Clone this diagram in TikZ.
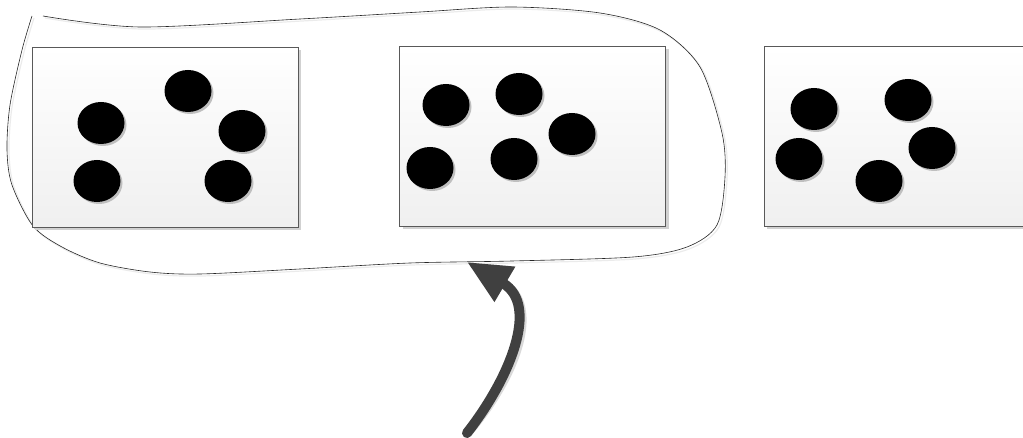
\documentclass[tikz,border=0pt]{standalone}
\usetikzlibrary{shapes.geometric,shadows,arrows.meta}
\begin{document}
\begin{tikzpicture}[x=1pt,y=-1pt,
  panel/.style={rectangle,draw=black!65,line width=0.8pt,inner sep=0pt,
    minimum width=266pt,minimum height=180pt,top color=white,bottom color=black!6,
    drop shadow={shadow xshift=3pt,shadow yshift=-3pt,fill=black!18,opacity=1}},
  dot/.style={ellipse,fill=black,inner sep=0pt,minimum width=47pt,minimum height=42pt,
    drop shadow={shadow xshift=2pt,shadow yshift=-2pt,fill=black!25,opacity=1}},
  blobline/.style={line width=0.6pt,black!85},
  blobshadow/.style={line width=1.2pt,black!8},
  arrowline/.style={line width=10pt,line cap=round,black!75,
    -{Triangle[length=44pt,width=38pt]}}]
\useasboundingbox (0,0) rectangle (1023,438);
\clip (0,0) rectangle (1023,438);
% blob outline
\def\blobpath{(43,16) (140,27) (300,19) (420,12) (512,7) (600,13) (660,30) (700,67) (722,133) (725,177) (717,225) (687,247) (633,257) (512,261) (410,263) (300,269) (200,274) (150,272) (100,263) (62,247) (33,226) (12,185) (7,150) (10,105) (22,50) (32,16)}
\draw[blobshadow,xshift=2pt,yshift=-2pt] plot[smooth,tension=0.5] coordinates {\blobpath};
\draw[blobline] plot[smooth,tension=0.5] coordinates {\blobpath};
% panels
\node[panel] (p1) at (165,137) {};
\node[panel] (p2) at (532.5,136.5) {};
\node[panel] (p3) at (897,136.5) {};
% dots panel 1
\node[dot] (a1) at (101,123) {};
\node[dot] (a2) at (188,91) {};
\node[dot] (a3) at (242,131) {};
\node[dot] (a4) at (97,181) {};
\node[dot] (a5) at (228,181) {};
% dots panel 2
\node[dot] (b1) at (446,105) {};
\node[dot] (b2) at (519,94) {};
\node[dot] (b3) at (572,134) {};
\node[dot] (b4) at (430,168) {};
\node[dot] (b5) at (514,159) {};
% dots panel 3
\node[dot] (c1) at (814,109) {};
\node[dot] (c2) at (908,100) {};
\node[dot] (c3) at (932,148) {};
\node[dot] (c4) at (799,159) {};
\node[dot] (c5) at (879,181) {};
% arrow
\coordinate (tail) at (467,433);
\coordinate (tip) at (467,262);
\draw[arrowline,black!15,xshift=3pt,yshift=-2pt] (tail) .. controls (510,378) and (540,305) .. (tip);
\draw[arrowline] (tail) .. controls (510,378) and (540,305) .. (tip);
\end{tikzpicture}
\end{document}
